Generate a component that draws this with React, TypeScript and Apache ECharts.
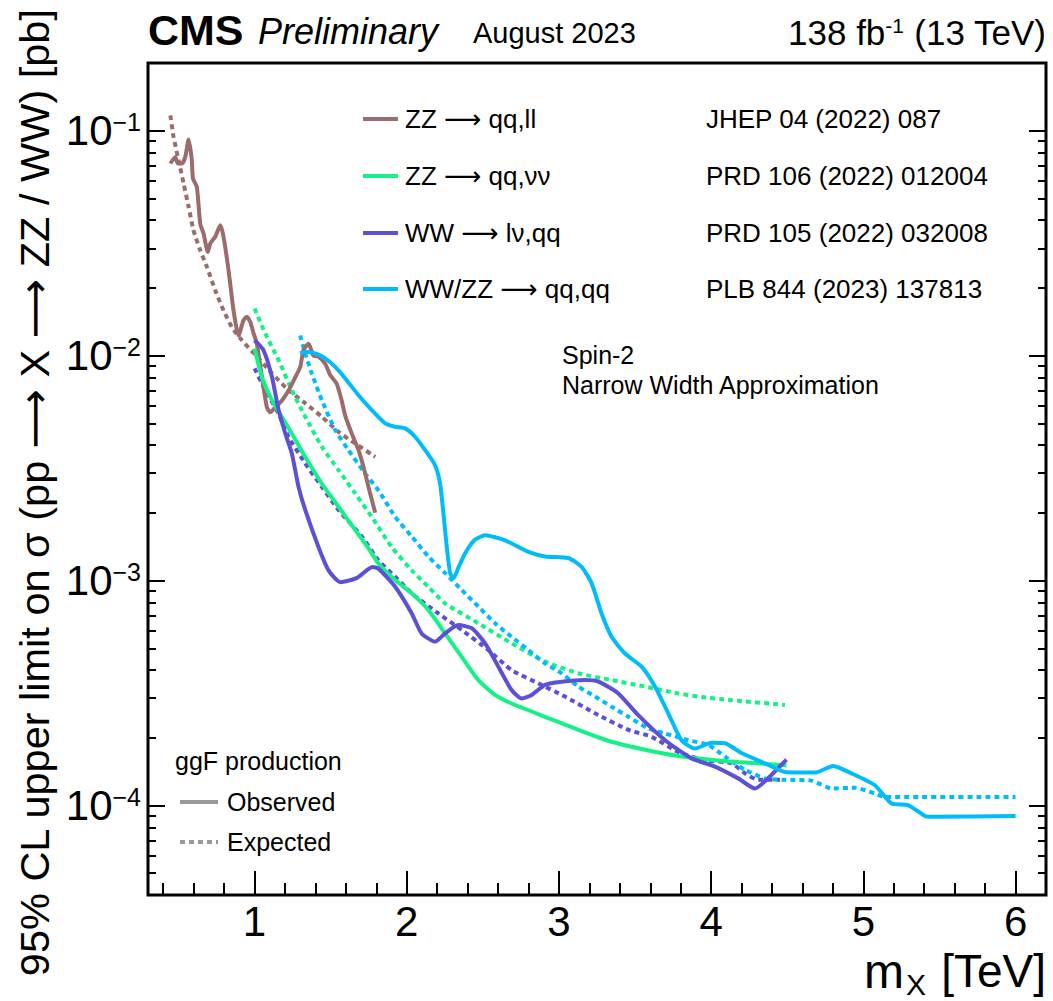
import React, { useEffect, useRef } from "react";
import * as echarts from "echarts";

const FONT = '"Liberation Sans", Arial, Helvetica, sans-serif';
const ARROW_FONT = '"DejaVu Sans", "Liberation Sans", sans-serif';

// ---- axis ticks ----
const xMajorTicks = [1, 2, 3, 4, 5, 6];
const xMinorTicks = [0.4, 0.6, 0.8, 1.2, 1.4, 1.6, 1.8, 2.2, 2.4, 2.6, 2.8, 3.2, 3.4, 3.6, 3.8, 4.2, 4.4, 4.6, 4.8, 5.2, 5.4, 5.6, 5.8];
const yMajorTicks = [1e-4, 1e-3, 1e-2, 1e-1];
const yMinorTicks = [
  5e-5, 6e-5, 7e-5, 8e-5, 9e-5,
  2e-4, 3e-4, 4e-4, 5e-4, 6e-4, 7e-4, 8e-4, 9e-4,
  2e-3, 3e-3, 4e-3, 5e-3, 6e-3, 7e-3, 8e-3, 9e-3,
  2e-2, 3e-2, 4e-2, 5e-2, 6e-2, 7e-2, 8e-2, 9e-2,
];

// ---- data: [m_X (TeV), 95% CL limit (pb)] ----
const zzllObs: [number, number][] = [
  [0.447, 0.0715], [0.479, 0.0765], [0.496, 0.0715], [0.523, 0.0715], [0.545, 0.0765], [0.567, 0.0914],
  [0.588, 0.074], [0.595, 0.0614], [0.621, 0.0562], [0.643, 0.0387], [0.665, 0.0349], [0.693, 0.0289],
  [0.709, 0.0315], [0.742, 0.0338], [0.775, 0.038], [0.796, 0.0338], [0.829, 0.024], [0.862, 0.0159],
  [0.895, 0.0123], [0.928, 0.0144], [0.949, 0.0149], [0.972, 0.0141], [0.993, 0.0126], [1.015, 0.0113],
  [1.048, 0.0081], [1.081, 0.0059], [1.103, 0.0056], [1.136, 0.0059], [1.179, 0.0063], [1.223, 0.007],
  [1.267, 0.008], [1.3, 0.0089], [1.322, 0.0106], [1.355, 0.0113], [1.387, 0.01], [1.42, 0.0099],
  [1.464, 0.0092], [1.497, 0.0082], [1.54, 0.0075], [1.573, 0.0063], [1.596, 0.0054], [1.639, 0.0045],
  [1.683, 0.0038], [1.716, 0.0032], [1.749, 0.0026], [1.793, 0.002],
];
const zzllExp: [number, number][] = [
  [0.447, 0.117], [0.468, 0.0938], [0.501, 0.074], [0.534, 0.0582], [0.567, 0.0458], [0.599, 0.0361],
  [0.643, 0.0294], [0.687, 0.0248], [0.742, 0.0195], [0.796, 0.0159], [0.851, 0.0134], [0.917, 0.0117],
  [1.026, 0.00973], [1.114, 0.00834], [1.223, 0.00703], [1.333, 0.00614], [1.442, 0.00535],
  [1.552, 0.00458], [1.661, 0.00407], [1.793, 0.00355],
];
const zzvvObs: [number, number][] = [
  [1.0, 0.01076], [1.048, 0.00805], [1.114, 0.00634], [1.179, 0.00535], [1.245, 0.00451], [1.333, 0.00355],
  [1.442, 0.0027], [1.552, 0.00213], [1.661, 0.00168], [1.749, 0.00139], [1.814, 0.00119], [1.924, 0.001005],
  [2.033, 0.000877], [2.142, 0.00074], [2.252, 0.000582], [2.361, 0.000458], [2.471, 0.000361], [2.58, 0.00031],
  [2.689, 0.000284], [2.909, 0.000248], [3.127, 0.000217], [3.346, 0.000192], [3.565, 0.000177],
  [3.784, 0.000166], [4.025, 0.000159], [4.244, 0.000155], [4.495, 0.000151],
];
const zzvvExp: [number, number][] = [
  [1.0, 0.0162], [1.07, 0.01256], [1.158, 0.00955], [1.245, 0.00703], [1.333, 0.00535], [1.442, 0.00394],
  [1.552, 0.0031], [1.661, 0.00244], [1.77, 0.00192], [1.901, 0.00141], [2.033, 0.00111], [2.142, 0.000938],
  [2.252, 0.000792], [2.471, 0.000646], [2.689, 0.000526], [2.909, 0.000436], [3.127, 0.000387],
  [3.346, 0.000361], [3.565, 0.000338], [3.784, 0.000315], [3.915, 0.000305], [4.134, 0.000294], [4.485, 0.00028],
];
const wwObs: [number, number][] = [
  [1.0, 0.0117], [1.059, 0.01056], [1.114, 0.00805], [1.158, 0.00573], [1.202, 0.00451], [1.245, 0.00367],
  [1.289, 0.00261], [1.333, 0.00206], [1.42, 0.00141], [1.486, 0.00111], [1.565, 0.000984], [1.67, 0.001025],
  [1.775, 0.00115], [1.814, 0.00113], [1.924, 0.000938], [2.033, 0.000714], [2.098, 0.000582], [2.186, 0.000535],
  [2.252, 0.000582], [2.339, 0.000634], [2.427, 0.000614], [2.515, 0.000526], [2.602, 0.000414], [2.689, 0.000326],
  [2.755, 0.000299], [2.821, 0.00031], [2.909, 0.000344], [3.018, 0.000355], [3.171, 0.000361], [3.259, 0.000355],
  [3.39, 0.000315], [3.521, 0.000252], [3.697, 0.000195], [3.871, 0.000162], [4.025, 0.000149], [4.178, 0.000132],
  [4.288, 0.000119], [4.353, 0.000128], [4.495, 0.00016],
];
const wwExp: [number, number][] = [
  [1.0, 0.00877], [1.07, 0.00703], [1.158, 0.00553], [1.223, 0.00436], [1.333, 0.00332], [1.442, 0.00261],
  [1.552, 0.00206], [1.705, 0.00157], [1.814, 0.00123], [1.924, 0.00104], [2.033, 0.000877], [2.208, 0.000714],
  [2.361, 0.000603], [2.536, 0.000491], [2.689, 0.0004], [2.865, 0.000349], [3.04, 0.000305], [3.237, 0.000257],
  [3.456, 0.000217], [3.609, 0.000202], [3.784, 0.000173], [3.959, 0.000159], [4.134, 0.000154], [4.222, 0.000139],
  [4.309, 0.00013], [4.452, 0.00013],
];
const qqObs: [number, number][] = [
  [1.3, 0.01023], [1.333, 0.0104], [1.399, 0.01023], [1.464, 0.00973], [1.53, 0.00891], [1.596, 0.00792],
  [1.683, 0.00667], [1.77, 0.00573], [1.858, 0.005], [1.924, 0.00483], [1.99, 0.00475], [2.055, 0.00436],
  [2.121, 0.0038], [2.186, 0.00326], [2.219, 0.0027], [2.241, 0.00199], [2.263, 0.00141], [2.285, 0.00108],
  [2.307, 0.001025], [2.339, 0.00114], [2.383, 0.00132], [2.444, 0.00151], [2.515, 0.00159], [2.646, 0.00151],
  [2.799, 0.00134], [2.909, 0.00128], [3.062, 0.00126], [3.149, 0.00115], [3.215, 0.000972], [3.28, 0.000714],
  [3.346, 0.000562], [3.434, 0.000474], [3.543, 0.000414], [3.631, 0.000338], [3.718, 0.000257], [3.806, 0.000195],
  [3.894, 0.000179], [4.003, 0.00019], [4.091, 0.000189], [4.2, 0.000171], [4.353, 0.000154], [4.485, 0.000141],
  [4.682, 0.00014], [4.802, 0.00015], [4.922, 0.000139], [5.076, 0.000123], [5.185, 0.000102], [5.294, 0.0001005],
  [5.404, 0.0000898], [5.448, 0.0000891], [6.0, 0.0000898],
];
const qqExp: [number, number][] = [
  [1.3, 0.0123], [1.333, 0.01023], [1.376, 0.00834], [1.442, 0.00634], [1.53, 0.00467], [1.617, 0.0038],
  [1.727, 0.00299], [1.814, 0.00252], [1.924, 0.00192], [2.033, 0.00157], [2.142, 0.00128], [2.252, 0.00108],
  [2.361, 0.000908], [2.471, 0.000766], [2.58, 0.000646], [2.689, 0.000562], [2.799, 0.000491], [2.909, 0.000428],
  [3.018, 0.000387], [3.127, 0.000338], [3.237, 0.000305], [3.346, 0.000275], [3.456, 0.000248], [3.587, 0.00022],
  [3.697, 0.000209], [3.85, 0.000195], [3.981, 0.000186], [4.091, 0.000165], [4.222, 0.000144], [4.353, 0.000132],
  [4.485, 0.00013], [4.66, 0.000129], [4.791, 0.000119], [4.944, 0.00012], [5.076, 0.000113], [5.141, 0.000109],
  [6.0, 0.000109],
];

// legend texts: "{a|...}" marks the arrow drawn in a wider font
const channelNames = ["ZZ {a|\u27f6} qq,ll", "ZZ {a|\u27f6} qq,\u03bd\u03bd", "WW {a|\u27f6} l\u03bd,qq", "WW/ZZ {a|\u27f6} qq,qq"];
const channelRefs = ["JHEP 04 (2022) 087", "PRD 106 (2022) 012004", "PRD 105 (2022) 032008", "PLB 844 (2023) 137813"];
const channelColors = ["#9c6c6c", "#14f287", "#5b50d6", "#00bcfa"];

const G = { left: 148, top: 63, width: 898, height: 832 };

function App() {
  const ref = useRef<HTMLDivElement>(null);
  useEffect(() => {
    if (!ref.current) return;
    const chart = echarts.init(ref.current, undefined, { renderer: "svg" });
    const dotted = [5, 4];
    const mk = (name: string, data: [number, number][], color: string, isExp: boolean) => ({
      type: "line",
      name,
      data,
      xAxisIndex: 0,
      yAxisIndex: 0,
      symbol: "none",
      showSymbol: false,
      smooth: 0.2,
      silent: true,
      clip: true,
      lineStyle: { color, width: 4, type: isExp ? dotted : "solid", cap: "butt" },
    });
    const tickStyle = { color: "#000", width: 2 };
    const xAxisBase = {
      type: "value",
      min: 0.3,
      max: 6.2,
      position: "bottom",
      axisLine: { show: false },
      splitLine: { show: false },
    };
    const yAxisBase = {
      type: "log",
      logBase: 10,
      min: 4e-5,
      max: 0.2,
      axisLine: { show: false },
      splitLine: { show: false },
    };
    const txt = (text: string, x: number, y: number, fontSize: number, extra: any = {}, align = "left") => ({
      type: "text",
      x,
      y,
      ...(extra.rotation !== undefined ? { rotation: extra.rotation } : {}),
      style: {
        text,
        fontSize,
        fontFamily: FONT,
        fill: "#000",
        align,
        textAlign: align,
        verticalAlign: "middle",
        textVerticalAlign: "middle",
        ...(extra.style || {}),
      },
    });
    const arrowRich = (fs: number) => ({ a: { fontSize: fs, fontFamily: ARROW_FONT, fill: "#000", verticalAlign: "middle" } });

    const legendItems: any[] = [];
    const rowY = [119, 176, 233, 289];
    channelNames.forEach((n, i) => {
      legendItems.push({
        type: "line",
        shape: { x1: 363, y1: rowY[i], x2: 398, y2: rowY[i] },
        style: { stroke: channelColors[i], lineWidth: 4 },
      });
      legendItems.push(txt(n, 405, rowY[i], 26, { style: { rich: arrowRich(26) } }));
      legendItems.push(txt(channelRefs[i], 706, rowY[i], 26));
    });

    const option: any = {
      animation: false,
      backgroundColor: "#fff",
      grid: { ...G, show: true, borderColor: "#000", borderWidth: 3, backgroundColor: "transparent", outerBoundsMode: "none", containLabel: false },
      xAxis: [
        {
          ...xAxisBase,
          axisTick: { show: true, inside: true, length: 24, customValues: xMajorTicks, lineStyle: tickStyle },
          axisLabel: { show: true, customValues: xMajorTicks, fontSize: 42, fontFamily: FONT, color: "#000", margin: 5 },
        },
        {
          ...xAxisBase,
          axisTick: { show: true, inside: true, length: 12, customValues: xMinorTicks, lineStyle: tickStyle },
          axisLabel: { show: false },
        },
      ],
      yAxis: [
        {
          ...yAxisBase,
          position: "left",
          axisTick: { show: true, inside: true, length: 17, customValues: yMajorTicks, lineStyle: tickStyle },
          axisLabel: {
            show: true,
            customValues: yMajorTicks,
            margin: 7,
            formatter: (v: number) => `{b|10}{s|\u2212${Math.abs(Math.round(Math.log10(v)))}}`,
            rich: {
              b: { fontSize: 42, fontFamily: FONT, color: "#000" },
              s: { fontSize: 25, fontFamily: FONT, color: "#000", verticalAlign: "top" },
            },
          },
        },
        {
          ...yAxisBase,
          position: "left",
          axisTick: { show: true, inside: true, length: 8, customValues: yMinorTicks, lineStyle: tickStyle },
          axisLabel: { show: false },
        },
        {
          ...yAxisBase,
          position: "right",
          axisTick: { show: true, inside: true, length: 17, customValues: yMajorTicks, lineStyle: tickStyle },
          axisLabel: { show: false },
        },
        {
          ...yAxisBase,
          position: "right",
          axisTick: { show: true, inside: true, length: 8, customValues: yMinorTicks, lineStyle: tickStyle },
          axisLabel: { show: false },
        },
      ],
      series: [
        mk("ZZ qq,ll expected", zzllExp, channelColors[0], true),
        mk("ZZ qq,vv expected", zzvvExp, channelColors[1], true),
        mk("WW lv,qq expected", wwExp, channelColors[2], true),
        mk("WW/ZZ qq,qq expected", qqExp, channelColors[3], true),
        mk("ZZ qq,ll observed", zzllObs, channelColors[0], false),
        mk("ZZ qq,vv observed", zzvvObs, channelColors[1], false),
        mk("WW lv,qq observed", wwObs, channelColors[2], false),
        mk("WW/ZZ qq,qq observed", qqObs, channelColors[3], false),
      ],
      graphic: [
        // header
        txt("CMS", 148, 30, 43, { style: { fontWeight: "bold" } }),
        txt("Preliminary", 258, 31, 36, { style: { fontStyle: "italic" } }),
        txt("August 2023", 473, 33, 29),
        txt("138 fb{s|-1} (13 TeV)", 1046, 32, 35, {
          style: { rich: { s: { fontSize: 21, fontFamily: FONT, fill: "#000", verticalAlign: "top" } } },
        }, "right"),
        // axis titles
        txt("95% CL upper limit on \u03c3 (pp {a|\u27f6} X {a|\u27f6} ZZ / WW) [pb]", 34, 493, 41.5, {
          rotation: Math.PI / 2,
          style: { rich: arrowRich(41.5) },
        }, "center"),
        txt("[TeV]", 1046, 971, 46, {}, "right"),
        txt("m", 904, 971, 48, {}, "right"),
        txt("X", 906, 984, 30, {}, "left"),
        // legend
        ...legendItems,
        txt("Spin-2", 562, 355, 25),
        txt("Narrow Width Approximation", 562, 385, 25),
        txt("ggF production", 175, 761, 25),
        {
          type: "line",
          shape: { x1: 180, y1: 802, x2: 218, y2: 802 },
          style: { stroke: "#999", lineWidth: 4 },
        },
        txt("Observed", 227, 802, 25),
        {
          type: "line",
          shape: { x1: 180, y1: 842, x2: 218, y2: 842 },
          style: { stroke: "#999", lineWidth: 4, lineDash: dotted },
        },
        txt("Expected", 227, 842, 25),
      ],
    };
    chart.setOption(option);
    return () => chart.dispose();
  }, []);
  return <div ref={ref} style={{ position: "fixed", left: 0, top: 0, width: 1053, height: 1001, background: "#fff" }} />;
}

export default App;
